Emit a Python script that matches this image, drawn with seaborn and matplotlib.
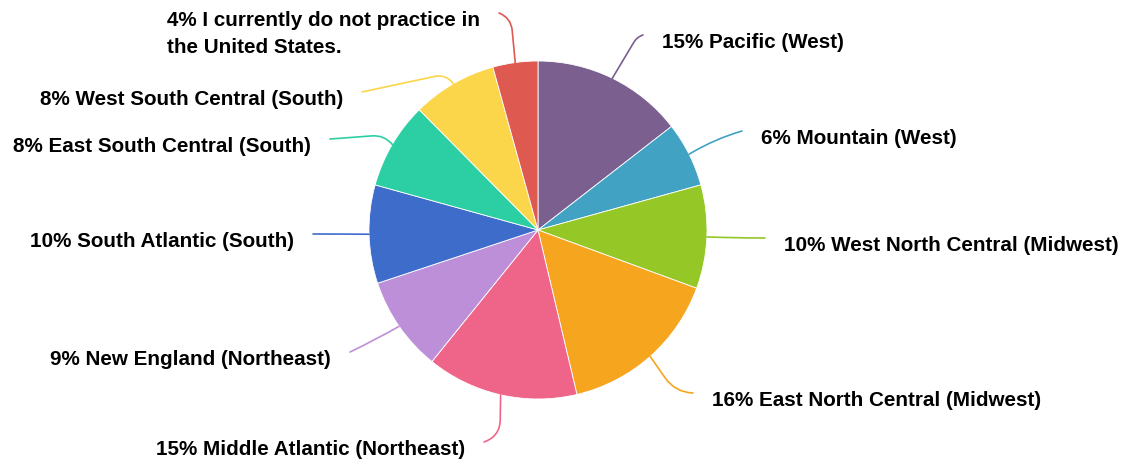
import numpy as np
import matplotlib
matplotlib.use("Agg")
import matplotlib.pyplot as plt
from matplotlib.path import Path
from matplotlib.patches import PathPatch
import seaborn as sns

labels = ["15% Pacific (West)", "6% Mountain (West)", "10% West North Central (Midwest)",
          "16% East North Central (Midwest)", "15% Middle Atlantic (Northeast)",
          "9% New England (Northeast)", "10% South Atlantic (South)",
          "8% East South Central (South)", "8% West South Central (South)",
          "4% I currently do not practice in\nthe United States."]
values = [14.5, 6.2, 9.9, 15.7, 14.5, 9.1, 9.4, 8.3, 8.1, 4.3]
colors = ["#7B5F8F", "#42A2C4", "#95C827", "#F5A51E", "#EF6589",
          "#BE8FD9", "#3E6CCB", "#2CCFA4", "#FBD54A", "#DE5950"]

# layout: leader-line knees and end points (pixel coords, y from top)
knees = [(637, 37), (715, 139), (736, 238), (675, 392), (500, 436),
         (375, 340), (340, 234), (384, 135), (446, 74), (511, 18)]
anchors = [(643, 35), (742, 131), (765, 238), (693, 393), (484, 442),
           (350, 352), (313, 234), (330, 139), (362, 92), (499, 13)]

sns.set_theme(style="white")
plt.rcParams['font.family'] = ['Liberation Sans', 'DejaVu Sans']

W, H = 1125, 462
fig = plt.figure(figsize=(W / 100, H / 100), dpi=100)
ax = fig.add_axes([0, 0, 1, 1])
cx, cy, R = 538, H - 230, 169

wedges, _ = ax.pie(values, colors=colors, startangle=90, counterclock=False,
                   center=(cx, cy), radius=R,
                   wedgeprops=dict(edgecolor="white", linewidth=0.6))
ax.set_xlim(0, W)
ax.set_ylim(0, H)
ax.set_aspect('equal')
ax.axis('off')

total = sum(values)
cum = 0
for i, v in enumerate(values):
    mid = (cum + v / 2) / total * 2 * np.pi
    cum += v
    dx, dy = np.sin(mid), np.cos(mid)
    p0 = np.array([cx + R * dx, cy + R * dy])
    kn = np.array([knees[i][0], H - knees[i][1]], dtype=float)
    ex, ey = anchors[i]
    p3 = np.array([ex, H - ey], dtype=float)
    l1 = np.linalg.norm(kn - p0)
    l2 = np.linalg.norm(p3 - kn)
    r = min(l1, l2) * 0.95
    a = kn + (p0 - kn) / max(l1, 1e-6) * r
    b = kn + (p3 - kn) / max(l2, 1e-6) * r
    path = Path([p0, a, kn, b, p3],
                [Path.MOVETO, Path.LINETO, Path.CURVE3, Path.CURVE3, Path.LINETO])
    ax.add_patch(PathPatch(path, facecolor="none", edgecolor=colors[i], lw=1.2,
                           capstyle="round", joinstyle="round"))
    right = ex > cx
    hdir = 1 if right else -1
    tx = ex + 19 * hdir
    ty = H - ey - 7.5
    if i == 9:
        ty = H - 34
    ax.text(tx, ty, labels[i], ha="left" if right else "right", va="center",
            fontsize=14.9, fontweight="bold", color="#000000",
            multialignment="left", linespacing=1.55)

fig.savefig("out.png", dpi=100)
